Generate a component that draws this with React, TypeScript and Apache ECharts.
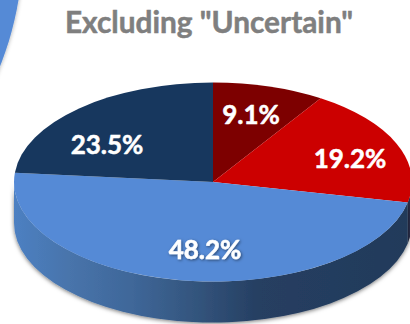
import React, { useEffect, useRef } from "react";
import * as echarts from "echarts";

const TITLE = 'Excluding "Uncertain"';
const CATEGORIES = ["Dark red", "Red", "Blue", "Navy"];
const SHARES = [9.1, 19.2, 48.2, 23.5];
const TOP_COLORS = ["#7d0000", "#cc0000", "#558ad6", "#17375e"];
const LABEL_SHADOW = [false, false, true, false];
const LABEL_OFFSET: [number, number][] = [
  [38, -68],
  [137, -24],
  [-8, 67],
  [-106, -38],
];

const CX = 213;
const CY = 182;
const RX = 199;
const RY = 99.5;
const DEPTH = 41;

const total = SHARES.reduce((a, b) => a + b, 0);
function angles(i: number): [number, number] {
  let start = 0;
  for (let k = 0; k < i; k++) start += SHARES[k];
  return [(start / total) * Math.PI * 2, ((start + SHARES[i]) / total) * Math.PI * 2];
}
function pt(a: number, dy = 0): string {
  return `${(CX + RX * Math.sin(a)).toFixed(2)} ${(CY - RY * Math.cos(a) + dy).toFixed(2)}`;
}
function topPath(a0: number, a1: number): string {
  const large = a1 - a0 > Math.PI ? 1 : 0;
  return `M${CX} ${CY} L${pt(a0)} A${RX} ${RY} 0 ${large} 1 ${pt(a1)} Z`;
}
function sidePath(a0: number, a1: number): string {
  return `M${pt(a0)} A${RX} ${RY} 0 0 1 ${pt(a1)} L${pt(a1, DEPTH)} A${RX} ${RY} 0 0 0 ${pt(a0, DEPTH)} Z`;
}

function sideFill(i: number) {
  if (i === 1) return "#2a2f4c";
  return new echarts.graphic.LinearGradient(0, 0, 1, 0, [
    { offset: 0, color: "#4d80c2" },
    { offset: 0.14, color: "#4874ab" },
    { offset: 0.3, color: "#3f6799" },
    { offset: 0.45, color: "#34567f" },
    { offset: 0.62, color: "#263f62" },
    { offset: 1, color: "#223a5a" },
  ]);
}

export default function App() {
  const ref = useRef<HTMLDivElement>(null);
  useEffect(() => {
    const chart = echarts.init(ref.current!, null, { renderer: "svg" });
    const rows = SHARES.map((v, i) => ({ name: CATEGORIES[i], value: v }));
    chart.setOption({
      animation: false,
      backgroundColor: "#ffffff",
      title: {
        text: TITLE,
        left: 204,
        top: 1,
        textAlign: "center",
        textStyle: {
          color: "#7f7f7f",
          fontFamily: "Lato",
          fontWeight: "bold",
          fontSize: 29.8,
          textBorderColor: "#7f7f7f",
          textBorderWidth: 0.5,
        },
      },
      graphic: [
        {
          type: "circle",
          z: 0,
          shape: { cx: -304, cy: -54, r: 327 },
          style: { fill: "#558ad6", shadowBlur: 4, shadowColor: "rgba(0,0,0,0.35)" },
        },
      ],
      series: [
        {
          type: "custom",
          coordinateSystem: "none",
          z: 2,
          silent: true,
          data: rows,
          renderItem: (params: any) => {
            const i = params.dataIndex;
            const [a0, a1] = angles(i);
            const s = Math.max(a0, Math.PI / 2);
            const e = Math.min(a1, (Math.PI * 3) / 2);
            if (e <= s) return { type: "group", children: [] };
            return {
              type: "path",
              shape: { pathData: sidePath(s, e) },
              style: { fill: sideFill(i), shadowBlur: 4, shadowColor: "rgba(0,0,0,0.55)", shadowOffsetY: 1 },
            };
          },
        },
        {
          type: "custom",
          coordinateSystem: "none",
          z: 3,
          silent: true,
          data: rows,
          renderItem: (params: any) => {
            const i = params.dataIndex;
            const [a0, a1] = angles(i);
            return {
              type: "path",
              shape: { pathData: topPath(a0, a1) },
              style: { fill: TOP_COLORS[i] },
            };
          },
        },
        {
          type: "custom",
          coordinateSystem: "none",
          z: 4,
          silent: true,
          data: rows,
          renderItem: (params: any, api: any) => {
            const i = params.dataIndex;
            return {
              type: "text",
              x: CX + LABEL_OFFSET[i][0],
              y: CY + LABEL_OFFSET[i][1],
              style: {
                text: `${api.value(0) ?? SHARES[i]}%`,
                fill: "#ffffff",
                stroke: "#ffffff",
                lineWidth: 0.5,
                fontFamily: "Lato",
                fontWeight: "bold",
                fontSize: 26,
                textAlign: "center",
                textVerticalAlign: "middle",
                ...(LABEL_SHADOW[i]
                  ? { textShadowBlur: 3, textShadowColor: "rgba(0,0,0,0.5)", textShadowOffsetX: 1, textShadowOffsetY: 1 }
                  : {}),
              },
            };
          },
        },
      ],
    });
    return () => chart.dispose();
  }, []);
  return <div ref={ref} style={{ position: "fixed", left: 0, top: 0, width: 410, height: 324 }} />;
}
